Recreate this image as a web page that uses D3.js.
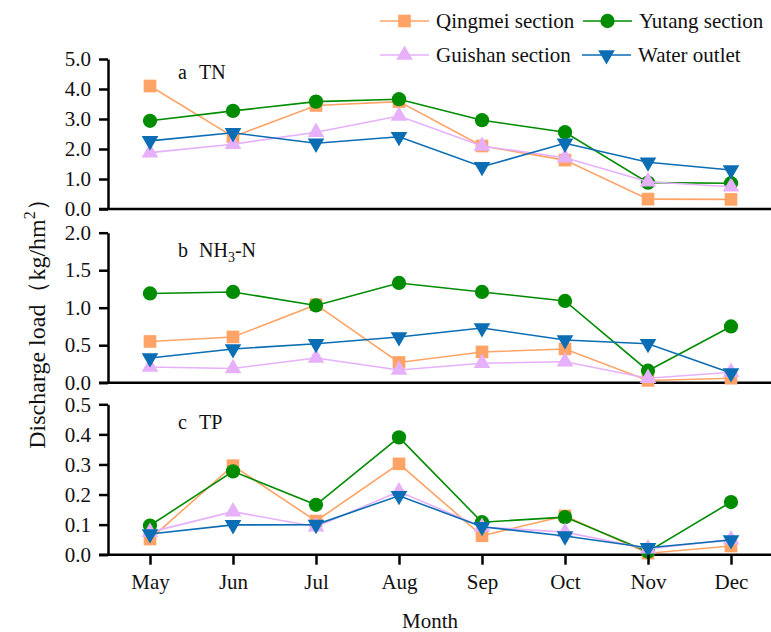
<!DOCTYPE html>
<html>
<head>
<meta charset="utf-8">
<script src="https://cdn.jsdelivr.net/npm/d3@7.9.0/dist/d3.min.js"></script>
<style>
  body { margin: 0; background: #fff; }
  text { font-family: "Liberation Serif", "Times New Roman", serif; fill: #111; }
</style>
</head>
<body>
<svg id="chart" width="771" height="632"></svg>
<script>
const months = ['May', 'Jun', 'Jul', 'Aug', 'Sep', 'Oct', 'Nov', 'Dec'];
const seriesNames = ['Qingmei section', 'Yutang section', 'Guishan section', 'Water outlet'];

// TN
const tnQingmei = [4.10, 2.41, 3.45, 3.58, 2.10, 1.63, 0.33, 0.32];
const tnYutang = [2.94, 3.27, 3.58, 3.66, 2.96, 2.56, 0.88, 0.86];
const tnGuishan = [1.88, 2.16, 2.56, 3.10, 2.10, 1.71, 0.91, 0.74];
const tnOutlet = [2.27, 2.54, 2.19, 2.41, 1.41, 2.19, 1.56, 1.30];

// NH3-N
const nhQingmei = [0.55, 0.61, 1.04, 0.27, 0.41, 0.45, 0.03, 0.06];
const nhYutang = [1.19, 1.21, 1.03, 1.33, 1.21, 1.09, 0.16, 0.75];
const nhGuishan = [0.21, 0.19, 0.33, 0.17, 0.26, 0.28, 0.06, 0.14];
const nhOutlet = [0.33, 0.45, 0.52, 0.61, 0.73, 0.57, 0.52, 0.13];

// TP
const tpQingmei = [0.052, 0.296, 0.112, 0.302, 0.063, 0.129, 0.005, 0.029];
const tpYutang = [0.097, 0.277, 0.166, 0.390, 0.108, 0.125, 0.010, 0.175];
const tpGuishan = [0.075, 0.143, 0.093, 0.210, 0.092, 0.075, 0.020, 0.050];
const tpOutlet = [0.069, 0.099, 0.100, 0.196, 0.093, 0.062, 0.023, 0.049];

const tnTicks = [0, 1, 2, 3, 4, 5];
const nhTicks = [0, 0.5, 1, 1.5, 2];
const tpTicks = [0, 0.1, 0.2, 0.3, 0.4, 0.5];

const colors = ['#ffa466', '#008c00', '#e6b0fa', '#0b6db3'];
const symbols = [d3.symbolSquare, d3.symbolCircle, d3.symbolTriangle, d3.symbolTriangle];
const symbolSizes = [160, 160, 120, 120];
const rotations = [0, 0, 0, 180];

const svg = d3.select('#chart');

const axisX = 108;
const x = d3.scalePoint().domain(months).range([150, 731]);

const panels = [
  { label: 'a', name: 'TN', data: [tnQingmei, tnYutang, tnGuishan, tnOutlet], max: 5, ticks: tnTicks, top: 59, bottom: 209, labelY: 20 },
  { label: 'b', name: 'NH3-N', data: [nhQingmei, nhYutang, nhGuishan, nhOutlet], max: 2, ticks: nhTicks, top: 232.7, bottom: 382.7, labelY: 24 },
  { label: 'c', name: 'TP', data: [tpQingmei, tpYutang, tpGuishan, tpOutlet], max: 0.5, ticks: tpTicks, top: 404.3, bottom: 554.7, labelY: 25 },
];

panels.forEach((p, pi) => {
  const y = d3.scaleLinear().domain([0, p.max]).range([p.bottom, p.top]);
  const g = svg.append('g');

  // y axis
  const yAxis = g.append('g')
    .attr('transform', `translate(${axisX},0)`)
    .call(d3.axisLeft(y).tickValues(p.ticks).tickFormat(d3.format('.1f')).tickSize(9).tickSizeOuter(0));
  yAxis.select('.domain').attr('stroke', '#000').attr('stroke-width', 2.5);
  yAxis.selectAll('.tick line').attr('stroke', '#000').attr('stroke-width', 2.5);
  yAxis.selectAll('.tick text')
    .attr('x', -17)
    .style('font-size', '21px')
    .style('font-family', '"Liberation Serif", serif')
    .attr('fill', '#111');

  // x baseline across the full width
  g.append('line')
    .attr('x1', axisX - 9).attr('x2', 771)
    .attr('y1', p.bottom).attr('y2', p.bottom)
    .attr('stroke', '#000').attr('stroke-width', 2.5);

  // panel label
  const lab = g.append('text')
    .attr('x', 178).attr('y', p.top + p.labelY)
    .style('font-size', '20px');
  lab.append('tspan').text(p.label);
  if (p.name === 'NH3-N') {
    lab.append('tspan').attr('x', 199).text('NH');
    lab.append('tspan').attr('dy', 5).style('font-size', '14px').text('3');
    lab.append('tspan').attr('dy', -5).text('-N');
  } else {
    lab.append('tspan').attr('x', 199).text(p.name);
  }

  const line = d3.line().x((d, i) => x(months[i])).y((d) => y(d));

  p.data.forEach((vals, si) => {
    g.append('path')
      .datum(vals)
      .attr('d', line)
      .attr('fill', 'none')
      .attr('stroke', colors[si])
      .attr('stroke-width', 1.6);

    g.selectAll(null)
      .data(vals)
      .join('path')
      .attr('d', d3.symbol().type(symbols[si]).size(symbolSizes[si]))
      .attr('transform', (d, i) => `translate(${x(months[i])},${y(d)}) rotate(${rotations[si]})`)
      .attr('fill', colors[si]);
  });

  // x axis ticks and labels only on the bottom panel
  if (pi === panels.length - 1) {
    const xAxis = g.append('g')
      .attr('transform', `translate(0,${p.bottom})`)
      .call(d3.axisBottom(x).tickSize(10));
    xAxis.select('.domain').remove();
    xAxis.selectAll('.tick line').attr('stroke', '#000').attr('stroke-width', 2.5);
    xAxis.selectAll('.tick text')
      .attr('y', 34).attr('dy', null)
      .style('font-size', '21px')
      .style('font-family', '"Liberation Serif", serif')
      .attr('fill', '#111');
  }
});

// axis titles
svg.append('text')
  .attr('x', 430).attr('y', 628)
  .attr('text-anchor', 'middle')
  .style('font-size', '21px')
  .text('Month');

const yTitle = svg.append('text')
  .attr('transform', 'translate(45,318) rotate(-90)')
  .attr('text-anchor', 'middle')
  .style('font-size', '24px');
yTitle.append('tspan').text('Discharge load（kg/hm');
yTitle.append('tspan').attr('dy', -10).style('font-size', '16px').text('2');
yTitle.append('tspan').attr('dy', 10).text('）');

// legend
const legendItems = [
  { x: 380, y: 21 },
  { x: 583, y: 21 },
  { x: 380, y: 55 },
  { x: 582, y: 55 },
];
const legend = svg.append('g');
seriesNames.forEach((name, i) => {
  const li = legendItems[i];
  const lg = legend.append('g').attr('transform', `translate(${li.x},${li.y})`);
  lg.append('line').attr('x1', 0).attr('x2', 49).attr('stroke', colors[i]).attr('stroke-width', 1.6);
  lg.append('path')
    .attr('d', d3.symbol().type(symbols[i]).size(symbolSizes[i])())
    .attr('transform', `translate(24.5,0) rotate(${rotations[i]})`)
    .attr('fill', colors[i]);
  lg.append('text')
    .attr('x', 56).attr('dy', '0.35em')
    .style('font-size', '21px')
    .text(name);
});
</script>
</body>
</html>
